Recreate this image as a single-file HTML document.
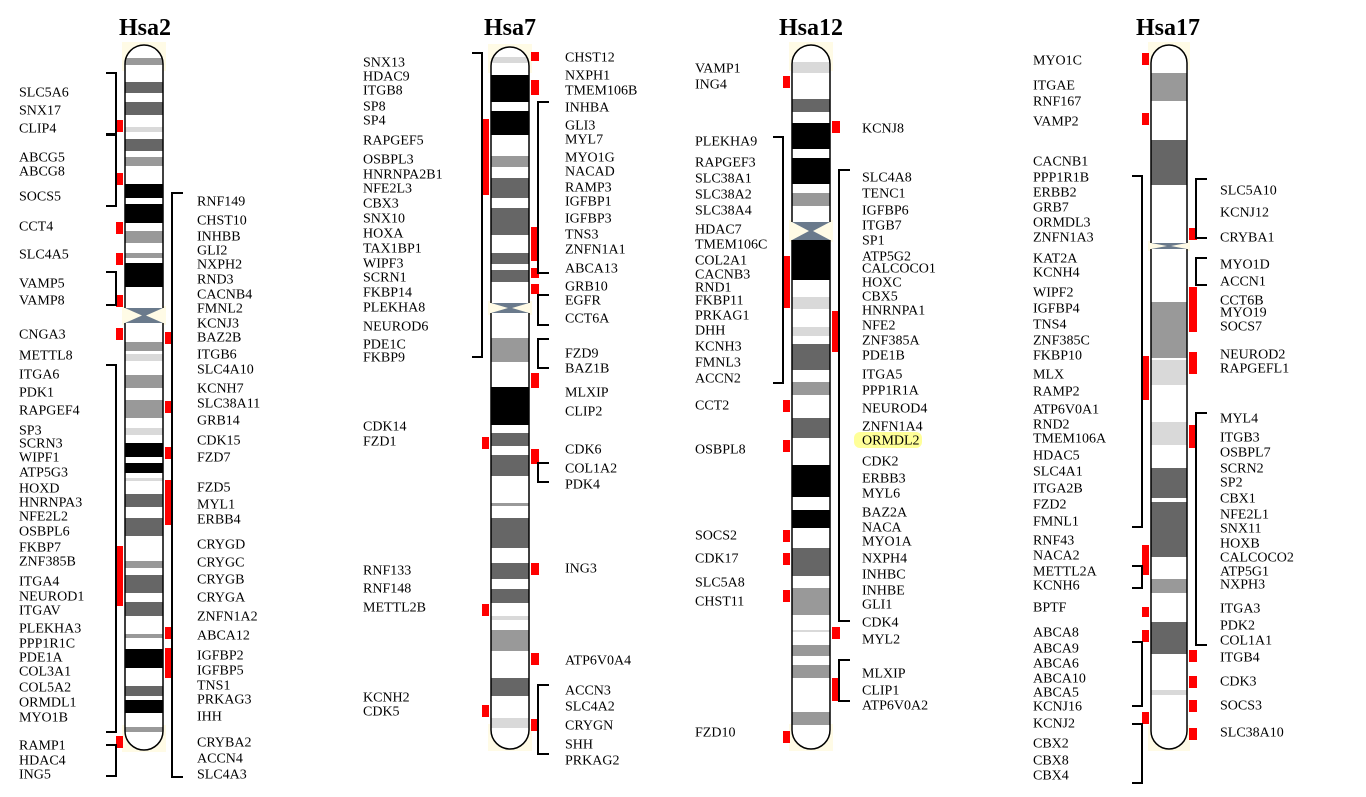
<!DOCTYPE html>
<html><head><meta charset="utf-8"><style>
html,body{margin:0;padding:0;background:#fff;}
svg text{font-family:"Liberation Serif",serif;}
</style></head><body>
<svg id="fig" width="1366" height="792" viewBox="0 0 1366 792" xmlns="http://www.w3.org/2000/svg"></svg>
<script>
const chromNames = ["Hsa2","Hsa7","Hsa12","Hsa17"];
const chromX = [[125,163],[491,529],[792,830],[1151,1187]];
const chromTop = [45,47,45,45];
const chromBottom = [750,749,749,749];
const centromeres = [[308,323],[303,313],[222,240],[243,249]];
const titleX = [145,510,811,1168];
const K="#000",D="#666",G="#999",L="#d9d9d9";
const bands2 = [[58,65,G],[82,93,D],[102,115,D],[127,132,L],[139,151,D],[157,166,G],[184,198,K],[204,223,K],[231,243,G],[253,258,G],[263,287,K],[342,351,G],[354,361,L],[375,388,G],[400,418,G],[428,435,L],[443,457,K],[463,473,K],[478,481,L],[494,507,D],[518,536,D],[561,568,G],[575,593,D],[602,616,D],[634,638,G],[649,668,K],[686,696,D],[700,713,K],[727,732,G]];
const bands7 = [[57,63,L],[75,102,K],[111,135,K],[156,167,G],[178,198,D],[208,235,D],[253,264,D],[270,282,D],[338,362,G],[387,425,K],[433,446,D],[455,476,D],[503,506,G],[518,548,D],[563,579,D],[589,603,D],[616,620,L],[630,651,G],[678,696,D],[718,728,L]];
const bands12 = [[62,73,L],[99,112,D],[123,149,K],[158,184,K],[193,206,G],[240,280,K],[297,309,L],[327,336,L],[344,370,D],[382,395,G],[418,438,D],[465,497,K],[510,528,K],[548,576,D],[588,615,G],[630,632,L],[645,656,G],[665,678,G],[712,725,G]];
const bands17 = [[73,101,G],[140,185,D],[302,358,G],[360,385,L],[422,445,L],[468,498,D],[502,557,D],[579,593,G],[622,654,D],[690,695,L]];
const allBands=[bands2,bands7,bands12,bands17];
const leftLabelX=[19,363,695,1033];
const rightLabelX=[197,565,862,1220];
const leftGenes2=[["SLC5A6",92],["SNX17",110],["CLIP4",128],["ABCG5",157],["ABCG8",171],["SOCS5",196],["CCT4",226],["SLC4A5",254],["VAMP5",283],["VAMP8",300],["CNGA3",334],["METTL8",355],["ITGA6",374],["PDK1",392],["RAPGEF4",410],["SP3",430],["SCRN3",443],["WIPF1",457],["ATP5G3",472],["HOXD",488],["HNRNPA3",502],["NFE2L2",516],["OSBPL6",531],["FKBP7",547],["ZNF385B",561],["ITGA4",581],["NEUROD1",596],["ITGAV",610],["PLEKHA3",628],["PPP1R1C",643],["PDE1A",657],["COL3A1",671],["COL5A2",687],["ORMDL1",702],["MYO1B",717],["RAMP1",745],["HDAC4",760],["ING5",774]];
const rightGenes2=[["RNF149",201],["CHST10",220],["INHBB",236],["GLI2",250],["NXPH2",264],["RND3",279],["CACNB4",294],["FMNL2",308],["KCNJ3",323],["BAZ2B",337],["ITGB6",354],["SLC4A10",369],["KCNH7",388],["SLC38A11",403],["GRB14",420],["CDK15",440],["FZD7",457],["FZD5",487],["MYL1",504],["ERBB4",519],["CRYGD",544],["CRYGC",562],["CRYGB",579],["CRYGA",597],["ZNFN1A2",616],["ABCA12",635],["IGFBP2",655],["IGFBP5",670],["TNS1",685],["PRKAG3",699],["IHH",716],["CRYBA2",742],["ACCN4",758],["SLC4A3",774]];
const leftGenes7=[["SNX13",62],["HDAC9",76],["ITGB8",90],["SP8",106],["SP4",120],["RAPGEF5",140],["OSBPL3",159],["HNRNPA2B1",174],["NFE2L3",188],["CBX3",203],["SNX10",218],["HOXA",233],["TAX1BP1",248],["WIPF3",263],["SCRN1",277],["FKBP14",292],["PLEKHA8",307],["NEUROD6",326],["PDE1C",344],["FKBP9",357],["CDK14",426],["FZD1",441],["RNF133",570],["RNF148",588],["METTL2B",607],["KCNH2",697],["CDK5",711]];
const rightGenes7=[["CHST12",57],["NXPH1",75],["TMEM106B",90],["INHBA",107],["GLI3",125],["MYL7",139],["MYO1G",157],["NACAD",171],["RAMP3",187],["IGFBP1",201],["IGFBP3",218],["TNS3",234],["ZNFN1A1",249],["ABCA13",268],["GRB10",286],["EGFR",300],["CCT6A",318],["FZD9",353],["BAZ1B",368],["MLXIP",392],["CLIP2",411],["CDK6",449],["COL1A2",468],["PDK4",484],["ING3",568],["ATP6V0A4",660],["ACCN3",690],["SLC4A2",706],["CRYGN",725],["SHH",744],["PRKAG2",760]];
const leftGenes12=[["VAMP1",68],["ING4",84],["PLEKHA9",141],["RAPGEF3",162],["SLC38A1",178],["SLC38A2",194],["SLC38A4",210],["HDAC7",229],["TMEM106C",244],["COL2A1",260],["CACNB3",274],["RND1",287],["FKBP11",300],["PRKAG1",315],["DHH",330],["KCNH3",346],["FMNL3",362],["ACCN2",378],["CCT2",405],["OSBPL8",449],["SOCS2",535],["CDK17",558],["SLC5A8",582],["CHST11",601],["FZD10",732]];
const rightGenes12=[["KCNJ8",128],["SLC4A8",177],["TENC1",193],["IGFBP6",210],["ITGB7",225],["SP1",240],["ATP5G2",256],["CALCOCO1",268],["HOXC",282],["CBX5",296],["HNRNPA1",310],["NFE2",325],["ZNF385A",340],["PDE1B",355],["ITGA5",374],["PPP1R1A",390],["NEUROD4",408],["ZNFN1A4",426],["ORMDL2",440],["CDK2",461],["ERBB3",478],["MYL6",493],["BAZ2A",512],["NACA",527],["MYO1A",541],["NXPH4",558],["INHBC",574],["INHBE",590],["GLI1",604],["CDK4",622],["MYL2",639],["MLXIP",673],["CLIP1",690],["ATP6V0A2",705]];
const leftGenes17=[["MYO1C",60],["ITGAE",85],["RNF167",101],["VAMP2",121],["CACNB1",161],["PPP1R1B",177],["ERBB2",192],["GRB7",207],["ORMDL3",222],["ZNFN1A3",237],["KAT2A",258],["KCNH4",272],["WIPF2",292],["IGFBP4",308],["TNS4",324],["ZNF385C",340],["FKBP10",355],["MLX",374],["RAMP2",391],["ATP6V0A1",409],["RND2",424],["TMEM106A",438],["HDAC5",455],["SLC4A1",471],["ITGA2B",488],["FZD2",504],["FMNL1",521],["RNF43",540],["NACA2",555],["METTL2A",571],["KCNH6",585],["BPTF",607],["ABCA8",632],["ABCA9",648],["ABCA6",663],["ABCA10",678],["ABCA5",692],["KCNJ16",706],["KCNJ2",723],["CBX2",743],["CBX8",760],["CBX4",775]];
const rightGenes17=[["SLC5A10",190],["KCNJ12",212],["CRYBA1",237],["MYO1D",264],["ACCN1",281],["CCT6B",300],["MYO19",312],["SOCS7",326],["NEUROD2",354],["RAPGEFL1",368],["MYL4",418],["ITGB3",437],["OSBPL7",452],["SCRN2",468],["SP2",482],["CBX1",498],["NFE2L1",514],["SNX11",528],["HOXB",543],["CALCOCO2",557],["ATP5G1",571],["NXPH3",584],["ITGA3",608],["PDK2",625],["COL1A1",640],["ITGB4",657],["CDK3",681],["SOCS3",705],["SLC38A10",732]];
const leftGenes=[leftGenes2,leftGenes7,leftGenes12,leftGenes17];
const rightGenes=[rightGenes2,rightGenes7,rightGenes12,rightGenes17];
const leftMarks=[[[120,132],[173,185],[222,234],[253,265],[295,307],[328,340],[546,606],[736,748]],[[119,195],[437,449],[604,616],[705,717]],[[76,88],[256,308],[400,412],[440,452],[530,542],[553,565],[590,602],[731,743]],[[53,65],[113,125],[356,400],[545,575],[607,617],[630,642],[712,724]]];
const rightMarks=[[[332,344],[401,413],[447,459],[480,525],[627,639],[648,678]],[[52,61],[80,95],[227,261],[268,278],[284,294],[373,388],[449,464],[563,575],[653,665],[719,731]],[[121,133],[311,352],[627,639],[678,701]],[[228,240],[287,332],[352,374],[425,448],[650,662],[676,688],[700,712],[728,740]]];
const leftBrackets=[[[73,134],[135,206],[272,305],[365,732],[745,776]],[[53,357]],[[137,383]],[[176,527],[566,588],[642,706],[724,783]]];
const rightBrackets=[[[193,777]],[[102,273],[295,325],[339,368],[463,482],[685,754]],[[170,621],[660,701]],[[179,238],[258,285],[413,645]]];

const svg=document.getElementById('fig');
const NS="http://www.w3.org/2000/svg";
function mk(tag,attrs,parent){const e=document.createElementNS(NS,tag);for(const k in attrs)e.setAttribute(k,attrs[k]);(parent||svg).appendChild(e);return e;}

chromNames.forEach((name,i)=>{
  const [x0,x1]=chromX[i];const w=x1-x0;const r=w/2;
  const top=chromTop[i],bot=chromBottom[i];
  const g=mk('g',{});
  
  
  mk('rect',{x:x0-3,y:top-3,width:w+6,height:r+10,fill:'#fffbe6'},g);
  mk('rect',{x:x0-3,y:bot-r-6,width:w+6,height:r+8,fill:'#fffbe6'},g);
  const [c0,c1]=centromeres[i];
  mk('rect',{x:x0-3,y:c0-2,width:w+6,height:c1-c0+4,fill:'#fffbe6'},g);
  const clip=mk('clipPath',{id:'clip'+i},g);
  mk('rect',{x:x0,y:top,width:w,height:bot-top,rx:r,ry:r},clip);
  const body=mk('g',{'clip-path':'url(#clip'+i+')'},g);
  mk('rect',{x:x0,y:top,width:w,height:bot-top,fill:'#fff'},body);
  allBands[i].forEach(b=>{
    const e=mk('rect',{x:x0,y:b[0],width:w,height:b[1]-b[0],fill:b[2]},body);
    
    
  });
  const cm=(c0+c1)/2;
  mk('rect',{x:x0-2,y:c0,width:w+4,height:c1-c0,fill:'#fffbe6'},g);
  mk('polygon',{points:`${x0},${c0} ${x1},${c0} ${x0+w/2+2},${cm} ${x0+w/2-2},${cm}`,fill:'#6a7a8c'},g);
  mk('polygon',{points:`${x0},${c1} ${x1},${c1} ${x0+w/2+2},${cm} ${x0+w/2-2},${cm}`,fill:'#6a7a8c'},g);
  const p=`M${x0},${c0} L${x0},${top+r} A${r},${r} 0 0 1 ${x1},${top+r} L${x1},${c0} M${x0},${c1} L${x0},${bot-r} A${r},${r} 0 0 0 ${x1},${bot-r} L${x1},${c1}`;
  mk('path',{d:p,fill:'none',stroke:'#000','stroke-width':1.5},g);
  const t=mk('text',{x:titleX[i],y:35,'text-anchor':'middle','font-size':24,'font-weight':'bold'});
  t.textContent=name;
  
  
  leftGenes[i].forEach(gn=>{
    const e=mk('text',{x:leftLabelX[i],y:gn[1]+4.5,'font-size':14});
    e.textContent=gn[0];
    
    
  });
  rightGenes[i].forEach(gn=>{
    if(gn[0]==='ORMDL2'&&i===2){mk('rect',{x:rightLabelX[i]-8,y:gn[1]-8,width:68,height:16,rx:6,fill:'#ffff99'});}
    const e=mk('text',{x:rightLabelX[i],y:gn[1]+4.5,'font-size':14});
    e.textContent=gn[0];
    
    
  });
  leftMarks[i].forEach(m=>{
    const e=mk('rect',{x:x0-9,y:m[0],width:7,height:m[1]-m[0],fill:'#ff0000'});
    
    
  });
  rightMarks[i].forEach(m=>{
    const e=mk('rect',{x:x1+2,y:m[0],width:8,height:m[1]-m[0],fill:'#ff0000'});
    
    
  });
  leftBrackets[i].forEach(b=>{
    const bx=x0-9;
    const e=mk('path',{d:`M${bx-10},${b[0]} H${bx} V${b[1]} H${bx-10}`,fill:'none',stroke:'#000','stroke-width':2});
    
    
  });
  rightBrackets[i].forEach(b=>{
    const bx=x1+9;
    const e=mk('path',{d:`M${bx+11},${b[0]} H${bx} V${b[1]} H${bx+11}`,fill:'none',stroke:'#000','stroke-width':2});
    
    
  });
});
</script>
</body></html>
